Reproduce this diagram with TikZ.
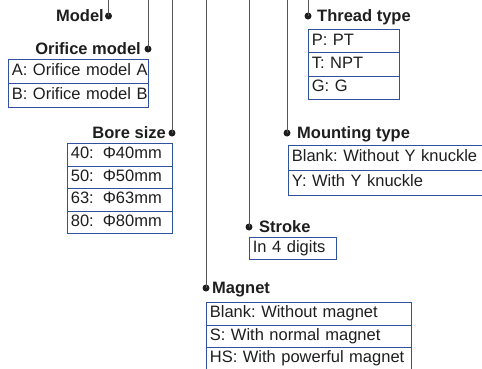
\documentclass[tikz,border=0pt]{standalone}
\usepackage{fontspec}
\setmainfont{Liberation Sans}
\definecolor{boxblue}{RGB}{48,80,160}
\definecolor{linegray}{RGB}{85,85,85}
\definecolor{txt}{RGB}{30,30,30}
\newcommand{\rowtext}[1]{\mbox{#1}}
\begin{document}
\frenchspacing
\begin{tikzpicture}[x=1pt,y=-1pt,
  rowbox/.style={draw=boxblue, line width=0.8pt, anchor=north west, inner xsep=3.5pt, inner ysep=0pt,
    text height=12pt, text depth=4pt, align=left, font=\frenchspacing\fontsize{16.5}{18}\selectfont, text=txt},
  head/.style={inner sep=0pt, font=\frenchspacing\bfseries\fontsize{16.5}{18}\selectfont, text=txt},
  leader/.style={draw=linegray, line width=0.9pt},
  dotmark/.style={circle, fill=txt, inner sep=0pt, minimum size=7pt}]
\useasboundingbox (0,0) rectangle (482,368);
\clip (0,0) rectangle (482,368);

% top anchor coordinates
\coordinate (tModel) at (108.5,0);
\coordinate (tOrif) at (148,0);
\coordinate (tBore) at (172,0);
\coordinate (tMag) at (206,0);
\coordinate (tStroke) at (249,0);
\coordinate (tMount) at (287,0);
\coordinate (tThread) at (308,0);

% dots
\node[dotmark] (dModel) at (108.5,16) {};
\node[dotmark] (dOrif) at (148,49) {};
\node[dotmark] (dBore) at (172,133) {};
\node[dotmark] (dMag) at (206,288) {};
\node[dotmark] (dStroke) at (249,227) {};
\node[dotmark] (dMount) at (287,133) {};
\node[dotmark] (dThread) at (308,16) {};

% leaders
\draw[leader] (tModel) -- (dModel.center);
\draw[leader] (tOrif) -- (dOrif.center);
\draw[leader] (tBore) -- (dBore.center);
\draw[leader] (tMag) -- (dMag.center);
\draw[leader] (tStroke) -- (dStroke.center);
\draw[leader] (tMount) -- (dMount.center);
\draw[leader] (tThread) -- (dThread.center);

% headings
\node[head, anchor=base east] (hModel) at (104,21.7) {Model};
\node[head, anchor=base east] (hOrif) at (141,54.7) {Orifice model};
\node[head, anchor=base east] (hBore) at (166,138.7) {Bore size};
\node[head, anchor=base west] (hThread) at (317,21.7) {Thread type};
\node[head, anchor=base west] (hMount) at (297,138.7) {Mounting type};
\node[head, anchor=base west] (hStroke) at (259,232.7) {Stroke};
\node[head, anchor=base west] (hMag) at (212,293.7) {Magnet};

% Orifice model box
\node[rowbox, text width=133pt, minimum height=24pt] (o1) at (8,59) {\rowtext{A: Orifice model A}};
\node[rowbox, text width=133pt, minimum height=24pt] (o2) at (8,83) {\rowtext{B: Orifice model B}};

% Bore size box
\node[rowbox, text width=98pt, minimum height=22.5pt] (b1) at (67,143) {\rowtext{40:\hspace{9pt}Φ40mm}};
\node[rowbox, text width=98pt, minimum height=22.5pt] (b2) at (67,165.5) {\rowtext{50:\hspace{9pt}Φ50mm}};
\node[rowbox, text width=98pt, minimum height=22.5pt] (b3) at (67,188) {\rowtext{63:\hspace{9pt}Φ63mm}};
\node[rowbox, text width=98pt, minimum height=22.5pt] (b4) at (67,210.5) {\rowtext{80:\hspace{9pt}Φ80mm}};

% Thread type box
\node[rowbox, text width=84pt, minimum height=23.3pt] (t1) at (308,29) {\rowtext{P: PT}};
\node[rowbox, text width=84pt, minimum height=23.3pt] (t2) at (308,52.3) {\rowtext{T: NPT}};
\node[rowbox, text width=84pt, minimum height=23.3pt] (t3) at (308,75.6) {\rowtext{G: G}};

% Mounting type box
\node[rowbox, text width=200pt, minimum height=25pt] (m1) at (288,145) {\rowtext{Blank: Without Y knuckle}};
\node[rowbox, text width=200pt, minimum height=25pt] (m2) at (288,170) {\rowtext{Y: With Y knuckle}};

% Stroke box
\node[rowbox, text width=80pt, minimum height=22pt] (s1) at (249,237) {\rowtext{In 4 digits}};

% Magnet box
\node[rowbox, text width=198pt, minimum height=22.5pt] (g1) at (206,302) {\rowtext{Blank: Without magnet}};
\node[rowbox, text width=198pt, minimum height=22.5pt] (g2) at (206,324.5) {\rowtext{S: With normal magnet}};
\node[rowbox, text width=198pt, minimum height=22.5pt] (g3) at (206,347) {\rowtext{HS: With powerful magnet}};
\end{tikzpicture}
\end{document}
